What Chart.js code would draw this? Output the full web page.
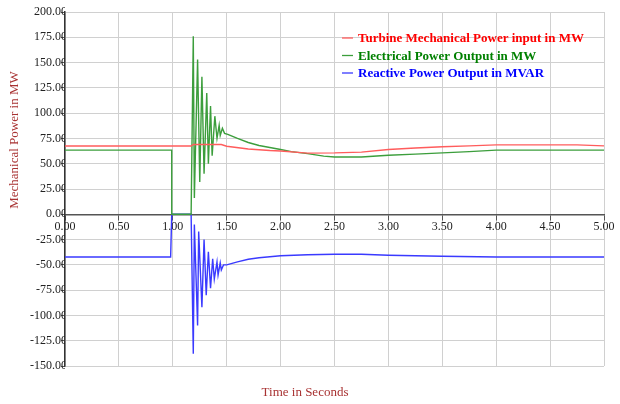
<!DOCTYPE html>
<html>
<head>
<meta charset="utf-8">
<script src="https://cdn.jsdelivr.net/npm/chart.js@4.4.1/dist/chart.umd.min.js"></script>
<style>
    html, body { margin: 0; padding: 0; background: #ffffff; }
    #wrap { width: 620px; height: 404px; position: relative; }
</style>
</head>
<body>
<div id="wrap"><canvas id="chart"></canvas></div>
<script>
// series labels and colours
const seriesLabels = [
    "Turbine Mechanical Power input in MW",
    "Electrical Power Output in MW",
    "Reactive Power Output in MVAR",
];
const lineColors = ["#ff5c5c", "#3c9e3c", "#3a3aff"];
const legendColors = ["#ff0000", "#008000", "#0000ff"];

// turbine mechanical power (MW)
const redTime = [0, 1.17, 1.19, 1.45, 1.5, 1.7, 1.9, 2.0, 2.25, 2.5, 2.75, 3.0, 3.25, 3.5, 3.75, 4.0, 4.5, 4.75, 5.0];
const redPower = [67.5, 67.5, 69, 69, 67.3, 64.5, 63, 62.5, 60.5, 60.7, 61.5, 64, 65.5, 66.7, 67.6, 68.6, 68.6, 68.6, 67.6];

// electrical power output (MW)
const greenTime = [0, 0.99, 0.99, 1.17, 1.19, 1.20, 1.23, 1.25, 1.27, 1.29, 1.315, 1.33, 1.35, 1.365, 1.39, 1.41, 1.43, 1.44, 1.46, 1.48, 1.51, 1.6, 1.7, 1.8, 1.9, 2.0, 2.1, 2.25, 2.4, 2.5, 2.75, 3.0, 3.25, 3.5, 3.75, 4.0, 4.5, 5.0];
const greenPower = [63.4, 63.4, 0, 0, 176, 16, 153, 32, 136, 40, 120, 50, 107, 58, 97, 75, 88, 78, 85, 80, 79, 75, 71, 68, 66, 64, 62, 60, 57.5, 56.7, 56.7, 58.4, 59.5, 60.7, 62, 63.4, 63.4, 63.4];

// reactive power output (MVAR)
const blueTime = [0, 0.98, 0.99, 1.17, 1.19, 1.20, 1.23, 1.24, 1.27, 1.29, 1.31, 1.33, 1.35, 1.37, 1.385, 1.41, 1.42, 1.44, 1.45, 1.47, 1.5, 1.6, 1.7, 1.8, 2.0, 2.25, 2.5, 2.75, 3.0, 3.5, 4.0, 4.5, 5.0];
const bluePower = [-42.2, -42.2, 0, 0, -138, -10, -110, -17, -92, -25, -80, -37, -73, -44, -64, -47, -60, -48, -55, -50, -50, -47, -44.5, -43, -41, -40, -39.5, -39.5, -40.5, -41.5, -42.2, -42.2, -42.2];

const xTitle = "Time in Seconds";
const yTitle = "Mechanical Power in MW";

const serif = "'Liberation Serif', 'DejaVu Serif', serif";

function toPoints(times, values) {
    return times.map((t, i) => ({ x: t, y: values[i] }));
}

const overlay = {
    id: "overlay",
    afterDraw(chart) {
        const ctx = chart.ctx;
        ctx.save();

        // legend inside the plot, top right
        ctx.font = "bold 13px " + serif;
        ctx.textBaseline = "middle";
        chart.data.datasets.forEach((ds, i) => {
            const y = 38 + i * 17.5;
            ctx.strokeStyle = ds.borderColor;
            ctx.lineWidth = 1.3;
            ctx.beginPath();
            ctx.moveTo(342, y);
            ctx.lineTo(353, y);
            ctx.stroke();
            ctx.fillStyle = legendColors[i];
            ctx.textAlign = "left";
            ctx.fillText(ds.label, 358, y + 1);
        });

        // axis titles
        ctx.fillStyle = "#a83232";
        ctx.font = "13px " + serif;
        ctx.textAlign = "center";
        ctx.fillText(xTitle, 305, 393);

        ctx.translate(15, 140);
        ctx.rotate(-Math.PI / 2);
        ctx.fillText(yTitle, 0, 0);
        ctx.restore();
    },
};

new Chart(document.getElementById("chart"), {
    type: "line",
    data: {
        datasets: [
            { label: seriesLabels[0], data: toPoints(redTime, redPower), borderColor: lineColors[0] },
            { label: seriesLabels[1], data: toPoints(greenTime, greenPower), borderColor: lineColors[1] },
            { label: seriesLabels[2], data: toPoints(blueTime, bluePower), borderColor: lineColors[2] },
        ],
    },
    options: {
        responsive: true,
        maintainAspectRatio: false,
        animation: false,
        parsing: false,
        elements: {
            line: { borderWidth: 1.4, tension: 0, fill: false },
            point: { radius: 0 },
        },
        layout: { padding: { left: 0, top: 12, right: 16, bottom: 38 } },
        plugins: {
            legend: { display: false },
            tooltip: { enabled: false },
        },
        scales: {
            x: {
                type: "linear",
                min: 0,
                max: 5,
                position: { y: 0 },
                ticks: {
                    stepSize: 0.5,
                    color: "#222",
                    font: { family: serif, size: 12 },
                    padding: 0,
                    maxRotation: 0,
                    callback: (value) => value.toFixed(2),
                },
                grid: { color: "#d0d0d0", tickLength: 5, tickColor: "#555" },
                border: { color: "#555", width: 1.5 },
            },
            y: {
                min: -150,
                max: 200,
                afterFit: (scale) => { scale.width = 65; },
                ticks: {
                    stepSize: 25,
                    color: "#222",
                    font: { family: serif, size: 12 },
                    padding: -6,
                    callback: (value) => value.toFixed(2),
                },
                grid: { color: "#d0d0d0", tickLength: 4, tickColor: "#555" },
                border: { color: "#333", width: 1.5 },
            },
        },
    },
    plugins: [overlay],
});
</script>
</body>
</html>
